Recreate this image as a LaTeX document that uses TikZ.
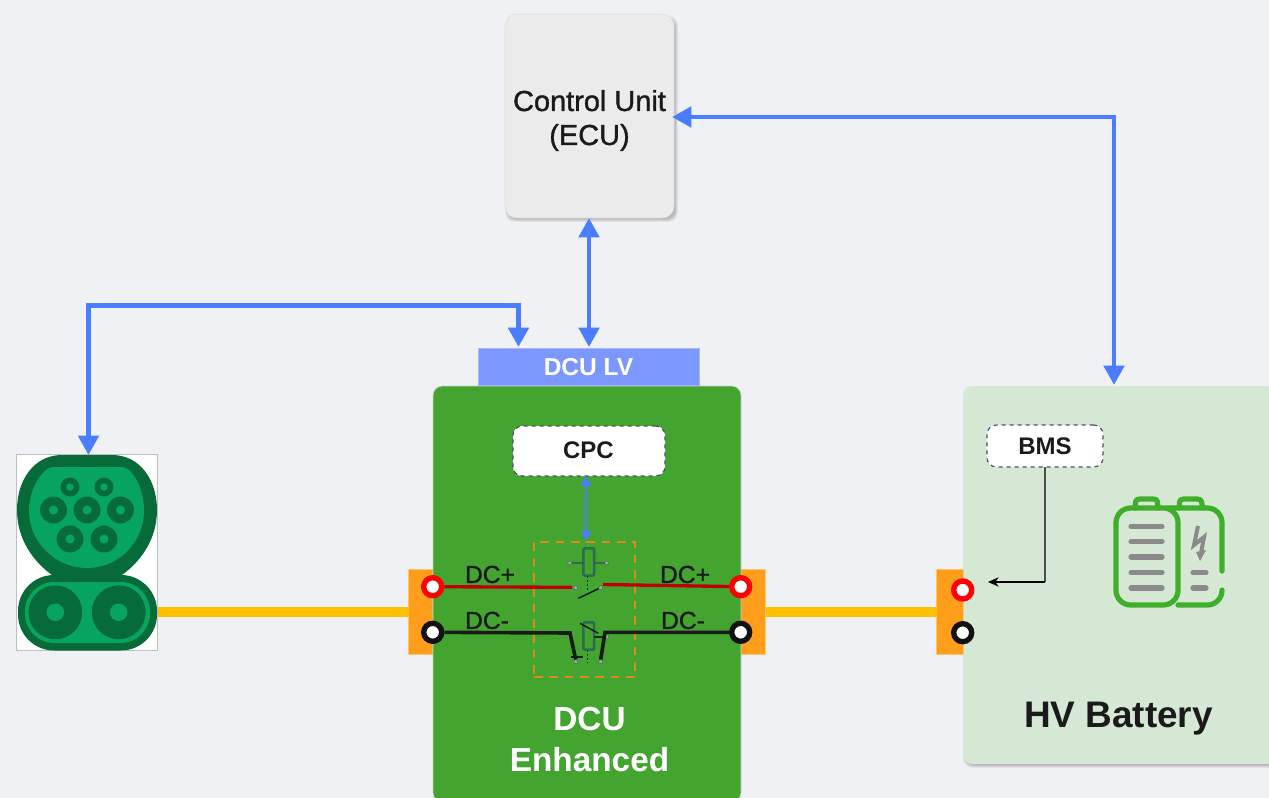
\documentclass[tikz,border=0pt]{standalone}
\usepackage{fontspec}
\setmainfont{Liberation Sans}
\newfontfamily\medfont[FakeBold=1.2]{Liberation Sans}
\usetikzlibrary{arrows.meta,calc}
\definecolor{bgc}{HTML}{EFF1F4}
\definecolor{ecuc}{HTML}{EBEBEB}
\definecolor{bluec}{HTML}{4A7DFF}
\definecolor{lvc}{HTML}{7C98FF}
\definecolor{dcuc}{HTML}{43A52F}
\definecolor{battc}{HTML}{D5E8D4}
\definecolor{orc}{HTML}{FF9E1B}
\definecolor{yelc}{HTML}{FFC000}
\definecolor{dkg}{HTML}{066A39}
\definecolor{ltg}{HTML}{06A45E}
\definecolor{wred}{HTML}{C00000}
\definecolor{wblk}{HTML}{1A1A1A}
\definecolor{txtc}{HTML}{1A1A1A}
\definecolor{coilc}{HTML}{2E6B50}
\definecolor{dashc}{HTML}{DF8B1A}
\definecolor{icong}{HTML}{3FAE2A}
\definecolor{barc}{HTML}{8A8A8A}
\definecolor{slatec}{HTML}{4A4F6A}
% soft shadow: stacked translucent rounded rectangles
\newcommand{\softsh}[4]{%
  \foreach \g in {0,1,2,3,4,5}{%
    \fill[black,opacity=.045,rounded corners=7pt]
      (#1+3-\g*.6,#2+5-\g*.6) rectangle (#3+\g*.6+1,#4+\g*.6+1);%
  }%
}
\tikzset{
  box/.style={inner sep=0pt,outer sep=0pt,rectangle},
  buswire/.style={bluec,line width=3.7pt},
  bustip/.style={{Triangle[length=14.5pt,width=15pt]}-{Triangle[length=14.5pt,width=15pt]}},
  power/.style={yelc,line width=7.5pt},
  term/.style={circle,inner sep=0pt,minimum size=13.5pt,line width=4pt,fill=white},
  tagbox/.style={box,rounded corners=7pt,fill=white,draw=slatec,dashed,line width=.9pt,text=txtc,font=\bfseries\fontsize{18pt}{18pt}\selectfont},
  dot/.style={circle,inner sep=0pt,minimum size=3pt,fill=gray!70,draw=coilc,line width=.3pt},
  coil/.style={box,draw=coilc,line width=1.9pt,minimum width=8pt,minimum height=20.5pt,rounded corners=1pt},
  lead/.style={draw=coilc,line width=1.2pt},
  mech/.style={wblk!80!dcuc,line width=.9pt,dash pattern=on 1.5pt off 1.5pt},
  redw/.style={wred,line width=2.5pt},
  blkw/.style={wblk,line width=2.7pt},
  wlabel/.style={inner sep=0pt,text=txtc,font=\medfont\fontsize{18.5pt}{18.5pt}\selectfont},
  pinbig/.style={fill=dkg},
  pinin/.style={fill=ltg},
  battline/.style={icong,line width=3.9pt,line cap=round,line join=round},
  barline/.style={barc,line width=3.9pt,line cap=round}
}
\begin{document}
\begin{tikzpicture}[x=0.75pt,y=-0.75pt]
\useasboundingbox (0,0) rectangle (1269,798);
\clip (0,0) rectangle (1269,798);
\fill[bgc] (0,0) rectangle (1269,798);

% charger image
\node[box,fill=white,draw=gray!50,line width=.6pt,minimum width=141*0.75pt,minimum height=196*0.75pt] (charger) at (87,552.5) {};
\fill[dkg] (62,455) -- (112,455) .. controls (140,455) and (157,480) .. (157,510) .. controls (157,540) and (140,562) .. (122,575) -- (52,575) .. controls (34,562) and (17,540) .. (17,510) .. controls (17,480) and (34,455) .. (62,455) -- cycle;
\fill[dkg,rounded corners=27pt] (18,575) rectangle (157,650.5);
\fill[ltg] (52,467) -- (123,467) .. controls (135,470) and (144,492) .. (144,510) .. controls (144,543) and (118,568) .. (87,568) .. controls (56,568) and (29,543) .. (29,510) .. controls (29,492) and (40,470) .. (52,467) -- cycle;
\fill[ltg,rounded corners=22pt] (25,582) rectangle (150,643);
\foreach \a/\b in {55.3/612.3,118.7/612.3}{
  \fill[pinbig] (\a,\b) circle (20.2pt);
  \fill[pinin] (\a,\b) circle (6.6pt);
}
\foreach \a/\b in {70/487,104/487}{
  \fill[pinbig] (\a,\b) circle (7.1pt);
  \fill[pinin] (\a,\b) circle (2.8pt);
}
\foreach \a/\b in {53.5/510,87/510,120.5/510,70/539,104/539}{
  \fill[pinbig] (\a,\b) circle (10.1pt);
  \fill[pinin] (\a,\b) circle (3.4pt);
}

% ECU
\softsh{505}{14}{674}{218}
\node[box,fill=ecuc,draw=gray!25,line width=.5pt,rounded corners=9pt,minimum width=169*0.75pt,minimum height=204*0.75pt] (ecu) at (589.5,116) {};
\node[inner sep=0pt,align=center,font=\medfont\fontsize{21.7pt}{25.5pt}\selectfont,text=txtc] (ecutext) at (589.5,120.5) {Control Unit\\(ECU)};

% HV battery
\softsh{963}{386}{1275}{764}
\node[box,fill=battc,rounded corners=7pt,minimum width=312*0.75pt,minimum height=378*0.75pt] (batt) at (1119,575) {};
\node[inner sep=0pt,font=\bfseries\fontsize{27.7pt}{27.7pt}\selectfont,text=txtc] (batttext) at (1118.5,719) {HV Battery};

% orange blocks behind main boxes
\node[box,fill=orc,draw=orc!60!white,line width=.5pt,minimum width=25*0.75pt,minimum height=85*0.75pt] (lblock) at (421,611.5) {};
\node[box,fill=orc,draw=orc!60!white,line width=.5pt,minimum width=25*0.75pt,minimum height=85*0.75pt] (rblock) at (753,611.5) {};
\node[box,fill=orc,draw=orc!60!white,line width=.5pt,minimum width=27*0.75pt,minimum height=85*0.75pt] (bblock) at (950,611.5) {};

% DCU
\node[box,fill=dcuc,draw=gray!35,line width=.5pt,rounded corners=7pt,minimum width=308*0.75pt,minimum height=416*0.75pt] (dcu) at (587,594) {};
\node[box,fill=lvc,draw=lvc!70!white,line width=.6pt,minimum width=221*0.75pt,minimum height=37*0.75pt,text=white,font=\bfseries\fontsize{18.4pt}{18.4pt}\selectfont] (lv) at (588.5,367) {DCU LV};
\node[inner sep=0pt,align=center,text=white,font=\bfseries\fontsize{25pt}{30.7pt}\selectfont] (dcutext) at (589.5,739.5) {DCU\\Enhanced};
\node[tagbox,minimum width=152*0.75pt,minimum height=50*0.75pt] (cpc) at (589,451) {\raisebox{.6pt}{\kern-1pt CPC}};
\node[tagbox,minimum width=116*0.75pt,minimum height=42*0.75pt] (bms) at (1045,446) {BMS};

% power lines
\draw[power] (charger.east |- lblock) -- (lblock.west);
\draw[power] (rblock.east) -- (bblock.west);

% relay frame
\node[box,draw=dashc,line width=1.9pt,dash pattern=on 6.5pt off 5pt,minimum width=101*0.75pt,minimum height=135*0.75pt] (frame) at (584.5,609.5) {};

% upper relay
\node[coil] (coilA) at (588.8,562) {};
\node[dot] (a1) at (569.7,563) {};
\node[dot] (a2) at (606.7,563) {};
\node[dot] (a3) at (575.7,587.7) {};
\node[dot] (a4) at (600.7,587.7) {};
\coordinate (a5) at (578.3,598.3);
\coordinate (a6) at (587.3,590);
\draw[lead] (a1) -- (coilA.west |- a1);
\draw[lead] (a2) -- (coilA.east |- a2);
\draw[mech] (coilA.south -| a6) -- (a6);
\draw[wblk,line width=1.1pt] (a5) -- (a4);

% lower relay
\node[coil] (coilB) at (588.8,636) {};
\node[dot] (b1) at (569.7,636.7) {};
\node[dot] (b2) at (606.7,636.7) {};
\node[dot] (b3) at (575.7,661.7) {};
\node[dot] (b4) at (600.7,661.7) {};
\coordinate (b5) at (580,623.3);
\coordinate (b6) at (598.3,633.3);
\coordinate (b7) at (587.3,663);
\coordinate (b8) at (571,657.3);
\coordinate (b9) at (583,657.3);
\draw[lead,draw=wblk!85!dcuc] (b2) -- (coilB.east |- b2);
\draw[mech] (coilB.south -| b7) -- (b7);
\draw[wblk,line width=1.1pt] (b5) -- (b6);
\draw[wblk,line width=1.4pt] (b8) -- (b9);

% terminals
\node[term,draw=red] (tl1) at (432.7,586.7) {};
\node[term,draw=wblk!70!black] (tl2) at (432.7,632.3) {};
\node[term,draw=red] (tr1) at (740.7,586.7) {};
\node[term,draw=wblk!70!black] (tr2) at (740.7,632.3) {};
\node[term,draw=red] (tb1) at (962.7,590) {};
\node[term,draw=wblk!70!black] (tb2) at (962.7,632.7) {};

% wires
\coordinate (r1) at (572,587.3);
\coordinate (r2) at (603,584.5);
\coordinate (k1) at (570,633);
\coordinate (k2) at (605,632.3);
\draw[redw] (tl1) -- (r1);
\draw[redw] (r2) -- (tr1);
\draw[blkw] (tl2) -- (k1) -- (b3.north);
\draw[blkw] (tr2) -- (k2) -- (b4.north);

% wire labels
\node[wlabel] (lp1) at (490,574.5) {DC+};
\node[wlabel] (lm1) at (487,620.5) {DC-};
\node[wlabel] (lp2) at (685,574.5) {DC+};
\node[wlabel] (lm2) at (683,620.5) {DC-};

% CPC arrow
\coordinate (cpcEnd) at (586,541);
\draw[bluec,line width=2pt,{Triangle[length=7.5pt,width=7.5pt]}-{Triangle[length=7.5pt,width=7.5pt]}] (cpc.south -| cpcEnd) -- (cpcEnd);

% bus connectors
\coordinate (busA) at (1114,117);
\coordinate (busB) at (88.5,305.5);
\coordinate (busC) at (518.5,305.5);
\coordinate (lvIn) at (518.5,347);
\coordinate (lvTop) at (589,347);
\coordinate (chIn) at (88.5,455);
\coordinate (ecuIn) at (672,117);
\coordinate (battIn) at (1114,385);
\draw[buswire,bustip] (ecuIn) -- (busA) -- (battIn);
\draw[buswire,bustip] (ecu.south -| lvTop) -- (lvTop);
\draw[buswire,bustip] (lvIn) -- (busC) -- (busB) -- (chIn);

% BMS connector
\coordinate (bmsCorner) at (bms.south |- 0,582);
\coordinate (bmsEnd) at (988,582);
\draw[gray!60!black,line width=1.2pt] (bms.south) -- (bmsCorner);
\draw[black,line width=.9pt,-{Stealth[length=8pt,width=7pt]}] (bmsCorner) -- (bmsEnd);

% battery icon
\draw[battline] (1135,508) .. controls (1136,503) and (1134,499) .. (1140,499) -- (1153,499) .. controls (1159,499) and (1157,503) .. (1158,508);
\draw[battline,rounded corners=11pt] (1135,508) -- (1116,508) -- (1116,605) -- (1178,605) -- (1178,508) -- (1158,508) -- (1135,508);
\draw[battline] (1179,508) .. controls (1180,503) and (1178,499) .. (1184,499) -- (1197,499) .. controls (1203,499) and (1201,503) .. (1203,508);
\draw[battline,rounded corners=11pt] (1172,508) -- (1222,508) -- (1222,571);
\draw[battline,rounded corners=11pt] (1222,590) -- (1222,605) -- (1178,605);
\foreach \b in {526.3,541.7,557,572.7,588}{\draw[barline] (1131,\b) -- (1162,\b);}
\foreach \b in {572.7,588}{\draw[barline] (1193,\b) -- (1206,\b);}
\draw[barc,line width=3pt,line join=miter] (1198,526) -- (1194,545) -- (1204,537) -- (1201,553);
\fill[barc] (1196,552) -- (1206,550) -- (1200,561) -- cycle;
\end{tikzpicture}
\end{document}
